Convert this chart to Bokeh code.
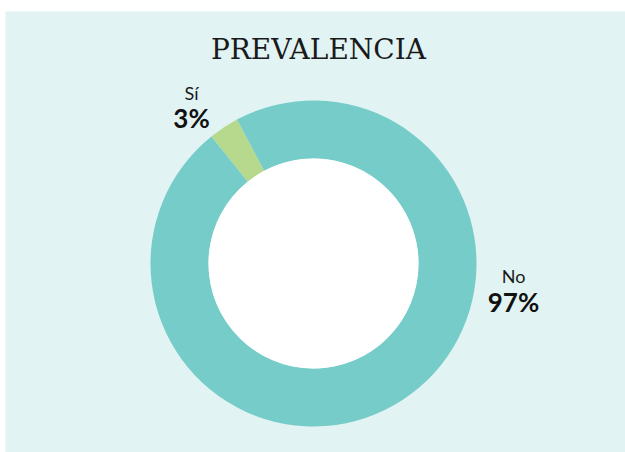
import numpy as np
from bokeh.plotting import figure
from bokeh.models import Range1d, ColumnDataSource
from bokeh.core.properties import value
from bokeh.embed import file_html
from bokeh.resources import INLINE

# ---- data ----
categories = ["Sí", "No"]
values = [3, 97]
pct_labels = ["3%", "97%"]
title_text = "PREVALENCIA"

colors = ["#b6d98e", "#76ccc8"]
bg = "#e1f3f3"

# angles (counterclockwise, degrees), Sí slice starts at 118°
start_deg = 118.0
vals = np.array(values, dtype=float)
fr = vals / vals.sum()
ends = start_deg + np.cumsum(fr) * 360.0
starts = np.concatenate([[start_deg], ends[:-1]])

W, H = 625, 452
TOP, LEFT = 11, 5
p = figure(width=W, height=H, output_backend="svg", toolbar_location=None,
           x_range=Range1d(LEFT, W), y_range=Range1d(-H, -TOP),
           min_border_left=LEFT, min_border_right=0, min_border_bottom=0,
           min_border_top=TOP)
p.axis.visible = False
p.grid.visible = False
p.outline_line_color = None
p.background_fill_color = bg
p.border_fill_color = "white"

cx, cy = 313, -263
src = ColumnDataSource(dict(cat=categories, start=np.radians(starts), end=np.radians(ends), color=colors))
p.annular_wedge(x=cx, y=cy, inner_radius=105, outer_radius=163,
                start_angle="start", end_angle="end", fill_color="color",
                line_color=None, source=src)
p.circle(x=cx, y=cy, radius=105, fill_color="white", line_color=None)

# title
p.text(x=[318], y=[-49], text=[title_text], text_font=value("DejaVu Serif"),
       text_font_size="28px", text_align="center", text_baseline="middle",
       text_color="#1a1a1a")

# labels
lab_x = [191, 513]
name_y = [-92, -275]
pct_y = [-117, -301]
p.text(x=lab_x, y=name_y, text=categories, text_font=value("Lato"),
       text_font_size="18px", text_align="center", text_baseline="middle",
       text_color="#1a1a1a")
p.text(x=lab_x, y=pct_y, text=pct_labels, text_font=value("Lato"),
       text_font_size="26px", text_font_style="bold", text_align="center",
       text_baseline="middle", text_color="#111111")

open("out.html", "w").write(file_html(p, INLINE))
